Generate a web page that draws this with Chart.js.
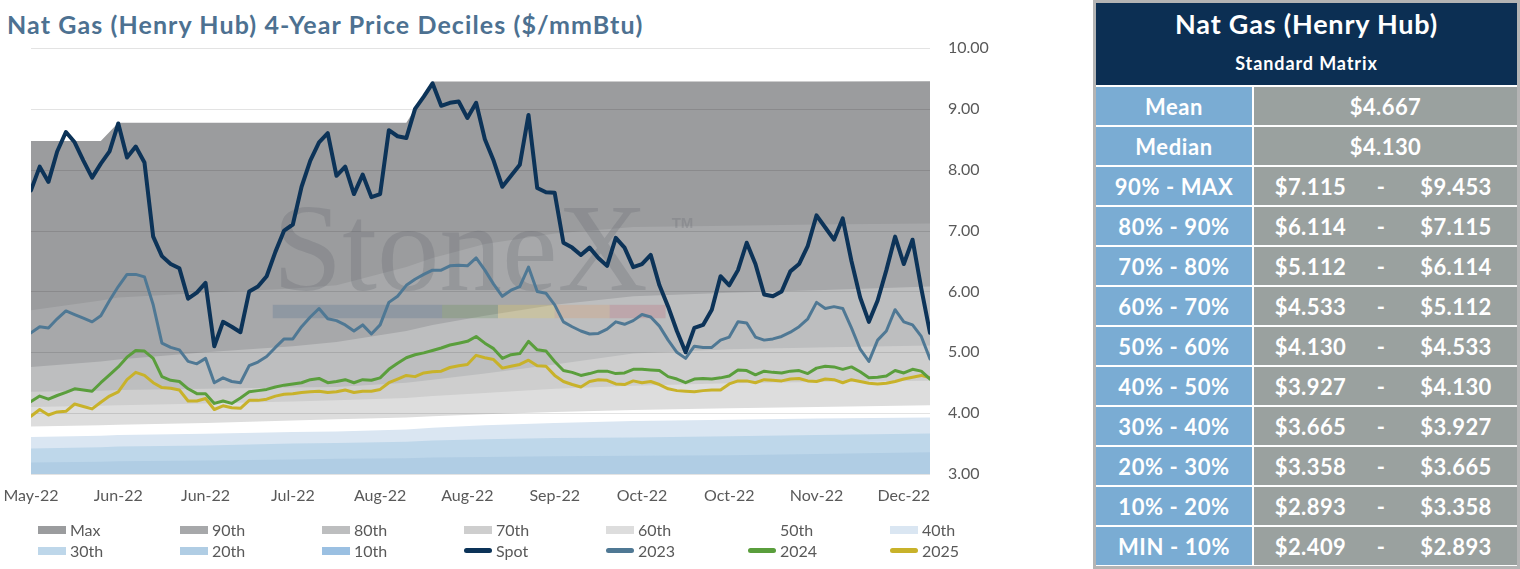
<!DOCTYPE html>
<html>
<head>
<meta charset="utf-8">
<script src="https://cdn.jsdelivr.net/npm/chart.js@4.4.0/dist/chart.umd.min.js"></script>
<style>
  html, body { margin: 0; padding: 0; background: #fff; }
  body { width: 1520px; height: 569px; position: relative; overflow: hidden; font-family: Lato, "Open Sans", sans-serif; }
  #title { position: absolute; left: 7px; top: 8px; font-size: 25px; letter-spacing: 1.1px; font-weight: 700; color: #4d7191; white-space: nowrap; line-height: 32px; }
  #chartBox { position: absolute; left: 0; top: 0; width: 1000px; height: 520px; }
  #legend { position: absolute; left: 38px; top: 519px; display: grid; grid-template-columns: repeat(7, 142px); }
  .item { height: 21px; display: flex; align-items: center; font-size: 16px; color: #595959; white-space: nowrap; }
  .sw { width: 28px; height: 8px; margin-right: 4px; flex: none; }
  .ln { width: 28px; height: 5px; border-radius: 3px; margin-right: 4px; flex: none; }
  #matrix { position: absolute; left: 1093px; top: 0; width: 427px; height: 569px; box-sizing: border-box; border: 3px solid #b4b4b4; background: #fff; }
  #grid { display: grid; grid-template-columns: 156px 263px; grid-template-rows: 82px repeat(12, 38px); column-gap: 2px; row-gap: 2px; }
  .head { grid-column: 1 / 3; background: #0c2f53; color: #fff; position: relative; text-align: center; font-weight: 700; }
  .head .t1 { position: absolute; left: 0; right: 0; top: 4px; font-size: 27px; letter-spacing: 0.8px; line-height: 34px; }
  .head .t2 { position: absolute; left: 0; right: 0; top: 48px; font-size: 18px; letter-spacing: 0.9px; line-height: 24px; }
  .lab { background: #7aacd3; color: #fff; font-weight: 700; font-size: 22px; letter-spacing: 0.6px; display: flex; align-items: center; justify-content: center; }
  .val { background: #9aa19f; color: #fff; font-weight: 700; font-size: 22px; letter-spacing: 0.4px; display: flex; align-items: center; justify-content: center; }
  .rng { background: #9aa19f; color: #fff; font-weight: 700; font-size: 22px; letter-spacing: 0.4px; display: grid; grid-template-columns: 113px 28px 1fr; align-items: center; text-align: center; }
</style>
</head>
<body>
<div id="title">Nat Gas (Henry Hub) 4-Year Price Deciles ($/mmBtu)</div>
<div id="chartBox"><canvas id="decileChart"></canvas></div>
<div id="legend"></div>
<div id="matrix"><div id="grid"></div></div>
<script>
// x axis tick labels, one every 10 trading days
const tickLabels = ['May-22', 'Jun-22', 'Jun-22', 'Jul-22', 'Aug-22', 'Aug-22', 'Sep-22', 'Oct-22', 'Oct-22', 'Nov-22', 'Dec-22'];

// decile band tops, read at these trading days
const bandDays = [0, 8, 10, 20, 30, 35, 43, 46, 52, 60, 69, 80, 90, 103];
const bandMax  = [8.47, 8.47, 8.77, 8.77, 8.77, 8.77, 8.77, 9.45, 9.45, 9.45, 9.45, 9.45, 9.45, 9.453];
const band90   = [5.69, 5.85, 5.90, 5.98, 6.05, 6.10, 6.40, 6.55, 6.78, 6.95, 7.06, 7.08, 7.10, 7.115];
const band80   = [4.76, 4.85, 4.88, 5.00, 5.10, 5.17, 5.35, 5.45, 5.60, 5.78, 5.92, 5.98, 6.02, 6.08];
const band70   = [4.35, 4.37, 4.38, 4.40, 4.42, 4.43, 4.50, 4.55, 4.65, 4.80, 4.98, 5.05, 5.08, 5.112];
const band60   = [4.10, 4.12, 4.13, 4.16, 4.19, 4.21, 4.25, 4.28, 4.33, 4.40, 4.45, 4.49, 4.51, 4.533];
const band50   = [3.78, 3.80, 3.81, 3.84, 3.88, 3.90, 3.93, 3.95, 3.98, 4.02, 4.05, 4.08, 4.10, 4.130];
const band40   = [3.61, 3.63, 3.64, 3.66, 3.69, 3.70, 3.73, 3.76, 3.80, 3.84, 3.87, 3.89, 3.91, 3.927];
const band30   = [3.42, 3.44, 3.45, 3.47, 3.50, 3.51, 3.53, 3.55, 3.57, 3.59, 3.60, 3.62, 3.64, 3.665];
const band20   = [3.19, 3.20, 3.21, 3.22, 3.24, 3.25, 3.26, 3.27, 3.28, 3.29, 3.30, 3.31, 3.33, 3.358];
const band10   = [2.70, 2.71, 2.72, 2.74, 2.76, 2.77, 2.79, 2.80, 2.82, 2.84, 2.86, 2.87, 2.88, 2.893];

// daily prices, one value per trading day
const spot = [
  7.66, 8.05, 7.80, 8.30, 8.62, 8.45, 8.15, 7.87, 8.10, 8.30,
  8.76, 8.20, 8.38, 8.12, 6.90, 6.58, 6.45, 6.38, 5.88, 5.98,
  6.14, 5.10, 5.50, 5.42, 5.33, 6.00, 6.08, 6.25, 6.65, 7.00,
  7.10, 7.72, 8.15, 8.45, 8.60, 7.90, 8.05, 7.60, 7.92, 7.55,
  7.60, 8.65, 8.55, 8.52, 9.00, 9.20, 9.42, 9.05, 9.10, 9.12,
  8.85, 9.10, 8.50, 8.15, 7.72, 7.90, 8.08, 8.90, 7.70, 7.63,
  7.62, 6.80, 6.72, 6.60, 6.72, 6.55, 6.42, 6.88, 6.72, 6.40,
  6.45, 6.60, 6.10, 5.75, 5.35, 5.00, 5.40, 5.45, 5.70, 6.25,
  6.10, 6.35, 6.80, 6.45, 5.95, 5.92, 6.00, 6.33, 6.45, 6.75,
  7.25, 7.05, 6.85, 7.20, 6.50, 5.90, 5.50, 5.85, 6.35, 6.90,
  6.45, 6.85, 6.05, 5.32
];
const strip2023 = [
  5.32, 5.42, 5.40, 5.55, 5.68, 5.62, 5.56, 5.50, 5.60, 5.85,
  6.08, 6.28, 6.28, 6.24, 5.78, 5.15, 5.08, 5.04, 4.85, 4.81,
  4.90, 4.50, 4.58, 4.52, 4.50, 4.78, 4.84, 4.93, 5.08, 5.22,
  5.22, 5.42, 5.58, 5.72, 5.55, 5.52, 5.45, 5.35, 5.45, 5.30,
  5.45, 5.82, 5.92, 6.10, 6.20, 6.28, 6.35, 6.35, 6.42, 6.43,
  6.42, 6.55, 6.35, 6.12, 5.92, 6.02, 6.08, 6.40, 6.00, 5.97,
  5.78, 5.50, 5.42, 5.35, 5.30, 5.31, 5.38, 5.50, 5.46, 5.52,
  5.62, 5.58, 5.43, 5.20, 5.00, 4.90, 5.10, 5.08, 5.08, 5.20,
  5.25, 5.50, 5.48, 5.25, 5.20, 5.22, 5.26, 5.33, 5.42, 5.55,
  5.82, 5.72, 5.75, 5.72, 5.40, 5.05, 4.85, 5.20, 5.35, 5.70,
  5.50, 5.45, 5.26, 4.89
];
const strip2024 = [
  4.19, 4.28, 4.23, 4.29, 4.34, 4.40, 4.38, 4.36, 4.50, 4.63,
  4.76, 4.92, 5.03, 5.02, 4.90, 4.60, 4.54, 4.52, 4.40, 4.32,
  4.32, 4.16, 4.20, 4.16, 4.25, 4.35, 4.37, 4.39, 4.43, 4.46,
  4.48, 4.50, 4.55, 4.57, 4.50, 4.52, 4.55, 4.50, 4.55, 4.54,
  4.58, 4.72, 4.82, 4.91, 4.96, 4.99, 5.03, 5.07, 5.12, 5.15,
  5.18, 5.26, 5.15, 5.06, 4.90, 4.96, 4.98, 5.18, 5.04, 5.02,
  4.85, 4.70, 4.67, 4.62, 4.65, 4.69, 4.69, 4.65, 4.66, 4.72,
  4.72, 4.71, 4.70, 4.60, 4.56, 4.50, 4.56, 4.57, 4.56, 4.58,
  4.61, 4.71, 4.70, 4.63, 4.69, 4.67, 4.66, 4.69, 4.70, 4.65,
  4.74, 4.77, 4.76, 4.72, 4.76, 4.68, 4.58, 4.59, 4.61, 4.70,
  4.66, 4.72, 4.69, 4.56
];
const strip2025 = [
  3.95, 4.06, 3.97, 4.02, 4.03, 4.15, 4.11, 4.07, 4.18, 4.28,
  4.35, 4.55, 4.67, 4.62, 4.50, 4.42, 4.41, 4.38, 4.20, 4.20,
  4.24, 4.06, 4.12, 4.09, 4.08, 4.21, 4.21, 4.23, 4.28, 4.31,
  4.32, 4.34, 4.35, 4.36, 4.34, 4.35, 4.38, 4.34, 4.36, 4.36,
  4.39, 4.50, 4.56, 4.62, 4.60, 4.66, 4.68, 4.69, 4.75, 4.78,
  4.80, 4.95, 4.91, 4.88, 4.74, 4.77, 4.80, 4.87, 4.78, 4.77,
  4.62, 4.52, 4.47, 4.43, 4.52, 4.55, 4.54, 4.48, 4.47, 4.53,
  4.50, 4.52, 4.47, 4.40, 4.37, 4.36, 4.35, 4.37, 4.38, 4.38,
  4.48, 4.53, 4.53, 4.50, 4.55, 4.54, 4.53, 4.56, 4.57, 4.53,
  4.52, 4.56, 4.55, 4.50, 4.55, 4.52, 4.49, 4.48, 4.49, 4.52,
  4.56, 4.59, 4.62, 4.58
];

// standard matrix table
const matrixMean = 4.667;
const matrixMedian = 4.130;
const matrixRows = ['90% - MAX', '80% - 90%', '70% - 80%', '60% - 70%', '50% - 60%', '40% - 50%', '30% - 40%', '20% - 30%', '10% - 20%', 'MIN - 10%'];
const matrixLow  = [7.115, 6.114, 5.112, 4.533, 4.130, 3.927, 3.665, 3.358, 2.893, 2.409];
const matrixHigh = [9.453, 7.115, 6.114, 5.112, 4.533, 4.130, 3.927, 3.665, 3.358, 2.893];

const bands = [
  { label: 'Max',  values: bandMax, color: '#9b9c9e' },
  { label: '90th', values: band90,  color: '#a7a8aa' },
  { label: '80th', values: band80,  color: '#bdbebf' },
  { label: '70th', values: band70,  color: '#cecece' },
  { label: '60th', values: band60,  color: '#dddddd' },
  { label: '50th', values: band50,  color: '#ffffff' },
  { label: '40th', values: band40,  color: '#dae6f2' },
  { label: '30th', values: band30,  color: '#bed7ea' },
  { label: '20th', values: band20,  color: '#b0cde4' },
  { label: '10th', values: band10,  color: '#9bc0e2' },
];
const lines = [
  { label: 'Spot', values: spot,      color: '#0c3358', width: 4 },
  { label: '2023', values: strip2023, color: '#4f7894', width: 3 },
  { label: '2024', values: strip2024, color: '#5a9e3c', width: 3 },
  { label: '2025', values: strip2025, color: '#c8b22a', width: 3 },
];

const datasets = [];
bands.forEach((b, k) => {
  datasets.push({
    label: b.label,
    data: bandDays.map((d, j) => ({ x: d, y: b.values[j] })),
    backgroundColor: b.color,
    borderColor: 'rgba(0,0,0,0)',
    borderWidth: 0,
    fill: 'start',
    pointRadius: 0,
    order: 20 - k,
    isBand: true,
  });
});
lines.forEach((l, k) => {
  datasets.push({
    label: l.label,
    data: l.values.map((v, d) => ({ x: d, y: v })),
    borderColor: l.color,
    borderWidth: l.width,
    fill: false,
    pointRadius: 0,
    borderJoinStyle: 'round',
    borderCapStyle: 'round',
    order: k + 1,
  });
});

// gridlines over the bands plus the StoneX watermark, under the price lines
const overlay = {
  id: 'overlay',
  beforeDatasetDraw(chart, args) {
    if (chart.data.datasets[args.index].label !== '2025') return;
    const { ctx, chartArea, scales } = chart;
    const xs = scales.x, ys = scales.y;
    ctx.save();
    ctx.strokeStyle = 'rgba(0,0,0,0.11)';
    ctx.lineWidth = 1;
    ys.ticks.forEach(t => {
      const y = Math.round(ys.getPixelForValue(t.value)) + 0.5;
      ctx.beginPath();
      ctx.moveTo(chartArea.left, y);
      ctx.lineTo(chartArea.right, y);
      ctx.stroke();
    });

    const wx = xs.getPixelForValue(27.7);
    ctx.fillStyle = 'rgba(85,90,98,0.22)';
    ctx.font = '125px "Liberation Serif", "DejaVu Serif", serif';
    ctx.textBaseline = 'alphabetic';
    ctx.fillText('StoneX', wx, ys.getPixelForValue(6.02));
    ctx.font = 'bold 15px "Liberation Sans", sans-serif';
    ctx.fillText('TM', xs.getPixelForValue(73.4), ys.getPixelForValue(7.05));

    const barTop = ys.getPixelForValue(5.78), barBottom = ys.getPixelForValue(5.56);
    const barStops = [27.7, 47.1, 53.5, 60.0, 66.3, 72.7];
    const barColors = ['rgba(60,95,135,0.22)', 'rgba(80,130,60,0.22)', 'rgba(230,205,90,0.28)', 'rgba(225,150,95,0.25)', 'rgba(190,80,100,0.22)'];
    barColors.forEach((c, k) => {
      const a = xs.getPixelForValue(barStops[k]), b = xs.getPixelForValue(barStops[k + 1]);
      ctx.fillStyle = c;
      ctx.fillRect(a, barTop, b - a, barBottom - barTop);
    });
    ctx.restore();
  }
};

new Chart('decileChart', {
  type: 'line',
  data: { datasets },
  plugins: [overlay],
  options: {
    responsive: true,
    maintainAspectRatio: false,
    animation: false,
    layout: { padding: { top: 48, left: 31, right: 0, bottom: 0 } },
    plugins: { legend: { display: false }, tooltip: { enabled: false } },
    scales: {
      x: {
        type: 'linear',
        min: 0,
        max: 103,
        grid: { display: false, drawTicks: false },
        border: { display: false },
        afterFit: s => { s.height = 46; s.paddingLeft = 0; s.paddingRight = 0; },
        ticks: {
          stepSize: 10,
          includeBounds: false,
          autoSkip: false,
          maxRotation: 0,
          padding: 12,
          color: '#595959',
          font: { family: 'Lato', size: 16 },
          callback: v => tickLabels[Math.round(v / 10)] || '',
        },
      },
      y: {
        position: 'right',
        min: 3,
        max: 10,
        grid: { display: false, drawTicks: false },
        border: { display: false },
        afterFit: s => { s.width = 70; s.paddingTop = 0; s.paddingBottom = 0; },
        ticks: {
          stepSize: 1,
          padding: 18,
          color: '#595959',
          font: { family: 'Lato', size: 16 },
          callback: v => v.toFixed(2),
        },
      },
    },
  },
});

// legend laid out in a fixed 7-column grid
const legendEl = document.getElementById('legend');
datasets.forEach(ds => {
  const item = document.createElement('div');
  item.className = 'item';
  const mark = document.createElement('span');
  if (ds.isBand) {
    mark.className = 'sw';
    mark.style.background = ds.backgroundColor;
  } else {
    mark.className = 'ln';
    mark.style.background = ds.borderColor;
  }
  item.appendChild(mark);
  item.appendChild(document.createTextNode(ds.label));
  legendEl.appendChild(item);
});

// standard matrix
const money = v => '$' + v.toFixed(3);
const gridEl = document.getElementById('grid');
let html = '<div class="head"><div class="t1">Nat Gas (Henry Hub)</div><div class="t2">Standard Matrix</div></div>';
html += '<div class="lab">Mean</div><div class="val">' + money(matrixMean) + '</div>';
html += '<div class="lab">Median</div><div class="val">' + money(matrixMedian) + '</div>';
matrixRows.forEach((r, k) => {
  html += '<div class="lab">' + r + '</div><div class="rng"><span>' + money(matrixLow[k]) + '</span><span>-</span><span>' + money(matrixHigh[k]) + '</span></div>';
});
gridEl.innerHTML = html;
</script>
</body>
</html>
